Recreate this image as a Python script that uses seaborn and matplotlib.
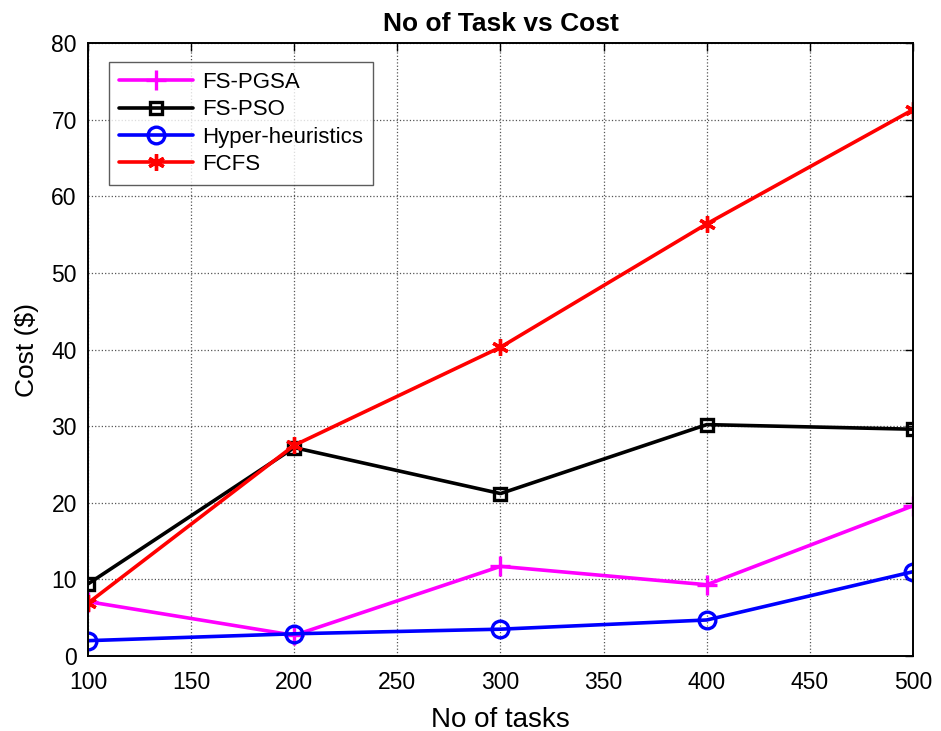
import matplotlib
matplotlib.use("Agg")
import matplotlib.pyplot as plt
import seaborn as sns
import pandas as pd

tasks = [100, 200, 300, 400, 500]
fs_pgsa = [7.1, 2.7, 11.7, 9.3, 19.6]
fs_pso = [9.4, 27.2, 21.2, 30.2, 29.6]
hyper_heuristics = [2.0, 2.9, 3.5, 4.7, 11.0]
fcfs = [6.9, 27.5, 40.3, 56.4, 71.3]

series_names = ["FS-PGSA", "FS-PSO", "Hyper-heuristics", "FCFS"]
series_values = [fs_pgsa, fs_pso, hyper_heuristics, fcfs]
colors = ["#FF00FF", "#000000", "#0000FF", "#FF0000"]
# plus, square, circle, six-spoke asterisk
markers = ["+", "s", "o", (6, 2, 0)]
marker_sizes = [14, 9, 12, 12]
hollow = [False, True, True, False]

sns.set_theme(style="white")
plt.rcParams["font.family"] = ["Liberation Sans", "DejaVu Sans"]
plt.rcParams["text.color"] = "black"
plt.rcParams["axes.labelcolor"] = "black"

df = pd.DataFrame({
    "tasks": tasks * len(series_names),
    "cost": [v for vals in series_values for v in vals],
    "method": [n for n in series_names for _ in tasks],
})

fig = plt.figure(figsize=(9.41, 7.31), dpi=100)
ax = fig.add_axes([0.0935, 0.1026, 0.8767, 0.8385])

for name, color, marker, ms, hol in zip(series_names, colors, markers,
                                        marker_sizes, hollow):
    sub = df[df["method"] == name]
    sns.lineplot(data=sub, x="tasks", y="cost", ax=ax, color=color,
                 marker=marker, markersize=ms,
                 markerfacecolor="none" if hol else color,
                 markeredgecolor=color, markeredgewidth=2.4,
                 linewidth=2.6, label=name)

ax.set_xlim(100, 500)
ax.set_ylim(0, 80)
ax.set_xticks(range(100, 501, 50))
ax.set_yticks(range(0, 81, 10))
ax.tick_params(axis="both", direction="in", length=6, width=1, colors="black",
               labelsize=16.5, top=True, right=True)
ax.tick_params(axis="x", pad=11)
ax.tick_params(axis="y", pad=8)
ax.grid(True, linestyle=":", color="#555555", linewidth=0.9)
for sp in ax.spines.values():
    sp.set_color("black")
    sp.set_linewidth(1.4)

ax.set_xlabel("No of tasks", fontsize=20, labelpad=9)
ax.set_ylabel("Cost ($)", fontsize=19, labelpad=9)
ax.set_title("No of Task vs Cost", fontsize=19, fontweight="bold", pad=9)

leg = ax.legend(loc="upper left", bbox_to_anchor=(0.026, 0.969), fontsize=16,
                frameon=True, fancybox=False, edgecolor="#333333",
                handlelength=3.3, borderpad=0.45, labelspacing=0.28,
                handletextpad=0.4, borderaxespad=0)
leg.get_frame().set_linewidth(1.0)

fig.savefig("out.png", dpi=100, facecolor="white")
